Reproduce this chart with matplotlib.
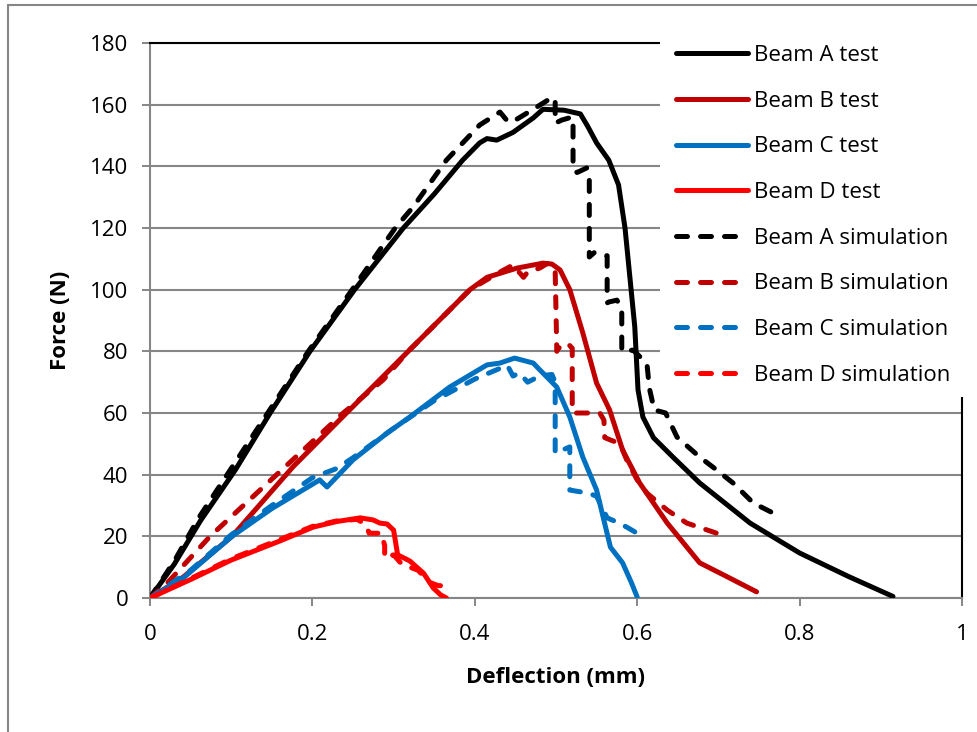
"""Force-deflection curves for beams A-D: test vs simulation."""

import matplotlib

matplotlib.use("Agg")
import matplotlib.pyplot as plt
from matplotlib.patches import Rectangle

plt.rcParams["font.family"] = ["Open Sans", "DejaVu Sans"]

# --- data (deflection mm, force N) ---
a_test_x = [0, 0.03, 0.062, 0.105, 0.148, 0.197, 0.252, 0.312, 0.35, 0.385, 0.406, 0.415, 0.427,
            0.447, 0.472, 0.484, 0.51, 0.53, 0.539, 0.55, 0.565, 0.577, 0.585, 0.591, 0.597, 0.601,
            0.607, 0.62, 0.644, 0.677, 0.739, 0.80, 0.86, 0.915]
a_test_y = [0, 11, 25, 41.5, 60, 80, 100, 120, 131, 142, 147.6, 149, 148.5,
            151, 155.7, 158.5, 158.2, 157, 153, 147.6, 142, 134, 120, 104, 88, 67.5,
            58.7, 52, 45.7, 37.3, 24.3, 14.6, 7, 0.5]

a_sim_x = [0, 0.03, 0.06, 0.1, 0.145, 0.195, 0.249, 0.283, 0.302, 0.324, 0.365, 0.406, 0.431,
           0.441, 0.45, 0.475, 0.496, 0.499, 0.499, 0.507, 0.52, 0.521, 0.521, 0.526, 0.538,
           0.541, 0.541, 0.547, 0.563, 0.563, 0.565, 0.575, 0.581, 0.581, 0.595, 0.612, 0.615,
           0.621, 0.635, 0.649, 0.677, 0.698, 0.718, 0.743, 0.767, 0.772]
a_sim_y = [0, 12, 26, 42, 60, 80, 100, 112.9, 120, 126.8, 142, 153.4, 157.6,
           154.4, 155, 159, 162.5, 161, 154, 155, 156, 153, 139, 138, 139.5,
           135.6, 110.6, 112, 111, 95.7, 96, 96.6, 94, 80, 80.4, 76, 68,
           61, 60, 52.2, 45.7, 41.5, 37.3, 30.8, 27.6, 27]

b_test_x = [0, 0.041, 0.101, 0.176, 0.242, 0.318, 0.394, 0.415, 0.452, 0.484, 0.495, 0.505,
            0.517, 0.533, 0.55, 0.566, 0.582, 0.603, 0.637, 0.677, 0.71, 0.747]
b_test_y = [0, 6.8, 20, 42.5, 60, 80, 100, 104, 107, 108.6, 108.3, 106.4,
            100, 86, 69.7, 61, 48, 37.3, 24.3, 11.4, 7, 2]

b_sim_x = [0, 0.02, 0.074, 0.156, 0.238, 0.287, 0.318, 0.394, 0.431, 0.447, 0.46, 0.465, 0.48,
           0.49, 0.499, 0.501, 0.503, 0.514, 0.52, 0.52, 0.521, 0.554, 0.559, 0.56, 0.579, 0.587,
           0.6, 0.612, 0.637, 0.661, 0.698]
b_sim_y = [0, 4.5, 20, 40, 60, 70.7, 80, 100, 105.7, 108, 104, 105.7, 107,
           108.6, 106, 80, 81, 82.7, 81, 61, 60, 60, 57.7, 52, 50, 44.8,
           38.3, 34, 28.5, 24.3, 21]

c_test_x = [0, 0.041, 0.101, 0.15, 0.209, 0.218, 0.25, 0.292, 0.32, 0.369, 0.415, 0.431, 0.449,
            0.472, 0.48, 0.501, 0.517, 0.533, 0.55, 0.558, 0.567, 0.582, 0.593, 0.6]
c_test_y = [0, 6.5, 20, 29, 38.3, 36, 44.8, 53.5, 58.7, 68.4, 75.6, 76.2, 77.8,
            76.2, 74, 68.4, 58.7, 45.7, 35, 26.3, 16.5, 11.4, 4.9, 0.3]

c_sim_x = [0, 0.05, 0.1, 0.15, 0.2, 0.23, 0.25, 0.3, 0.35, 0.4, 0.44, 0.447, 0.455, 0.465,
           0.48, 0.495, 0.499, 0.499, 0.517, 0.517, 0.54, 0.55, 0.563, 0.575, 0.587, 0.6]
c_sim_y = [0, 9, 20.5, 30, 39, 42, 45.5, 55, 64, 71, 75.5, 72, 73, 70,
           72, 72.5, 70, 47, 49, 35, 34, 33, 26, 24.6, 23, 21]

d_test_x = [0, 0.05, 0.1, 0.16, 0.201, 0.23, 0.259, 0.275, 0.283, 0.292, 0.3, 0.305, 0.32,
            0.337, 0.349, 0.358, 0.365]
d_test_y = [0, 6, 12.3, 18.5, 23, 24.8, 26, 25.3, 24.3, 24, 22, 14, 12,
            8, 3.2, 1, 0]

d_sim_x = [0, 0.05, 0.1, 0.16, 0.2, 0.23, 0.255, 0.265, 0.27, 0.285, 0.289, 0.289, 0.3, 0.31,
           0.33, 0.345, 0.355, 0.36, 0.361]
d_sim_y = [0, 6.3, 12.7, 19, 23.2, 25, 25.5, 24, 21, 21, 17, 13, 14, 11,
           9, 5, 4, 4, 7]

x_ticks = [0, 0.2, 0.4, 0.6, 0.8, 1]
x_tick_labels = ["0", "0.2", "0.4", "0.6", "0.8", "1"]
y_ticks = [0, 20, 40, 60, 80, 100, 120, 140, 160, 180]

GRID = "#868686"
COLORS = {"A": "#000000", "B": "#C00000", "C": "#0070C0", "D": "#FF0000"}
LW = 3.6
DASHES = (2.2, 2.6)
W, H = 977, 732

fig = plt.figure(figsize=(W / 100, H / 100), dpi=100)
ax = fig.add_axes([150 / W, 1 - 598 / H, 812 / W, 555 / H])

tests = [("A", a_test_x, a_test_y), ("B", b_test_x, b_test_y),
         ("C", c_test_x, c_test_y), ("D", d_test_x, d_test_y)]
sims = [("A", a_sim_x, a_sim_y), ("B", b_sim_x, b_sim_y),
        ("C", c_sim_x, c_sim_y), ("D", d_sim_x, d_sim_y)]

handles = []
for name, xs, ys in tests:
    (line,) = ax.plot(xs, ys, color=COLORS[name], lw=LW, solid_capstyle="round",
                      solid_joinstyle="round", label=f"Beam {name} test", zorder=3)
    handles.append(line)
for name, xs, ys in sims:
    (line,) = ax.plot(xs, ys, color=COLORS[name], lw=LW, dashes=DASHES, dash_capstyle="round",
                      dash_joinstyle="round", label=f"Beam {name} simulation", zorder=3)
    handles.append(line)

ax.set_xlim(0, 1)
ax.set_ylim(0, 180)
ax.set_xticks(x_ticks, x_tick_labels)
ax.set_yticks(y_ticks)
ax.tick_params(axis="both", direction="out", length=5.5, width=1.4, color=GRID, labelsize=16)
ax.tick_params(axis="x", pad=13)
ax.tick_params(axis="y", pad=10)
ax.yaxis.grid(True, color=GRID, lw=1.5, zorder=0)
ax.set_axisbelow(True)
for side in ("left", "bottom"):
    ax.spines[side].set_color(GRID)
    ax.spines[side].set_linewidth(1.5)
for side in ("top", "right"):
    ax.spines[side].set_color("black")
    ax.spines[side].set_linewidth(1.5)

ax.set_xlabel("Deflection (mm)", fontsize=16, fontweight="bold", labelpad=16)
ax.set_ylabel("Force (N)", fontsize=16, fontweight="bold", labelpad=14)

# white legend area sits over the plot's upper-right corner
ax.add_patch(Rectangle((660 / W, 1 - 397 / H), 330 / W, 373 / H, transform=fig.transFigure,
                       facecolor="white", edgecolor="none", zorder=4, clip_on=False))
leg = ax.legend(handles=handles, loc="upper left", bbox_to_anchor=(676 / W, 1 - 45 / H),
                bbox_transform=fig.transFigure, fontsize=16, frameon=False,
                handlelength=3.25, handletextpad=0.27, labelspacing=1.11,
                borderpad=0, borderaxespad=0)
leg.set_zorder(5)

# outer chart border (only top and left edges fall inside the picture)
fig.patches.append(Rectangle((8 / W, -0.2), 1.2, 1.2 - 5 / H, transform=fig.transFigure,
                             fill=False, edgecolor=GRID, lw=1.5))

fig.savefig("out.png", dpi=100)
